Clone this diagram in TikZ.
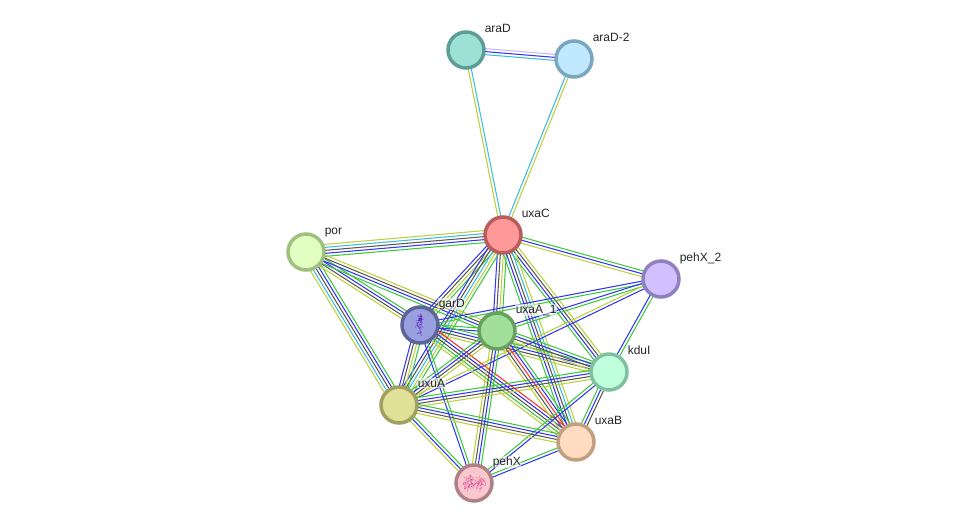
\documentclass[tikz,border=0pt]{standalone}
\usepackage{fontspec}
\setmainfont{Liberation Sans}
\usetikzlibrary{calc,backgrounds}
\definecolor{eg}{HTML}{3CC83C}
\definecolor{eb}{HTML}{3434F4}
\definecolor{ek}{HTML}{585858}
\definecolor{ec}{HTML}{3CBCDC}
\definecolor{ey}{HTML}{BCD03C}
\definecolor{er}{HTML}{F43434}
\definecolor{ep}{HTML}{C4B8F8}
% fill and ring colour of each protein
\definecolor{fa}{HTML}{9CE0D6}\definecolor{ra}{HTML}{5B9E98}
\definecolor{fb}{HTML}{C0E8FF}\definecolor{rb}{HTML}{7AA6C0}
\definecolor{fc}{HTML}{FF9999}\definecolor{rc}{HTML}{B85C5C}
\definecolor{fd}{HTML}{E0FFC0}\definecolor{rd}{HTML}{A0C080}
\definecolor{fe}{HTML}{D0C0FF}\definecolor{re}{HTML}{9080C0}
\definecolor{ff}{HTML}{99A0E0}\definecolor{rf}{HTML}{5C6499}
\definecolor{fg}{HTML}{A0E098}\definecolor{rg}{HTML}{68A060}
\definecolor{fh}{HTML}{C0FFDC}\definecolor{rh}{HTML}{80C0A0}
\definecolor{fi}{HTML}{E0E098}\definecolor{ri}{HTML}{A0A060}
\definecolor{fj}{HTML}{FFDCC0}\definecolor{rj}{HTML}{C0A080}
\definecolor{fk}{HTML}{F8C8CC}\definecolor{rk}{HTML}{B08088}
\tikzset{
  x=1pt,y=-1pt,
  protein/.style 2 args={circle,draw=#2,fill=#1,line width=3.5pt,minimum size=36pt,inner sep=0pt},
  tag/.style={anchor=base west,font=\fontsize{12}{12}\selectfont,text=black!85,fill=white,fill opacity=.55,text opacity=1,inner sep=.6pt},
  edgeline/.style={line width=1.05pt},
}
% Parallel evidence lines between two proteins, listed across the bundle.
\newcommand\bundle[3]{%
  \foreach \c [count=\i] in {#3}{\xdef\bundlesize{\i}}%
  \foreach \c [count=\i] in {#3}{%
    \pgfmathsetmacro\off{(\i-(\bundlesize+1)/2)*3}%
    \draw[edgeline,\c] ($(#1)!\off pt!90:(#2)$) -- ($(#2)!\off pt!-90:(#1)$);
  }%
}
% Tangled ribbon sketch of a folded structure inside a protein node.
\newcommand\fold[6]{%
  \pgfmathsetseed{#6}%
  \foreach \k in {1,...,#5}{%
    \pgfmathsetmacro\ax{#1+#3*(2*rnd-1)}%
    \pgfmathsetmacro\ay{#2+#4*(2*rnd-1)}%
    \pgfmathsetmacro\bx{\ax+6*(rnd-.5)}%
    \pgfmathsetmacro\by{\ay+6*(rnd-.5)}%
    \pgfmathsetmacro\cx{\ax+7*(rnd-.5)}%
    \pgfmathsetmacro\cy{\ay+7*(rnd-.5)}%
    \draw[foldline] (\ax,\ay) .. controls (\bx,\by) .. (\cx,\cy);
  }%
}
\begin{document}
\begin{tikzpicture}
\useasboundingbox (0,0) rectangle (976,528);
% proteins
\node[protein={fa}{ra}] (araD) at (466,50) {};
\node[protein={fb}{rb}] (araD2) at (574,59) {};
\node[protein={fc}{rc}] (uxaC) at (503,235) {};
\node[protein={fd}{rd}] (por) at (306,252) {};
\node[protein={fe}{re}] (pehX2) at (661,279) {};
\node[protein={ff}{rf}] (garD) at (420,325) {};
\node[protein={fg}{rg}] (uxaA) at (497,331) {};
\node[protein={fh}{rh}] (kduI) at (609,372) {};
\node[protein={fi}{ri}] (uxuA) at (399,405) {};
\node[protein={fj}{rj}] (uxaB) at (576,442) {};
\node[protein={fk}{rk}] (pehX) at (474,483) {};
% folded structures
\tikzset{foldline/.style={draw=violet!60!blue,line width=.3pt,opacity=.55}}
\fold{420}{322}{2}{6}{30}{11}
\fold{420.5}{331}{2}{2.5}{6}{12}
\tikzset{foldline/.style={draw=purple!70!magenta,line width=.3pt,opacity=.5}}
\fold{474}{483}{9}{6}{60}{13}
% labels
\node[tag] (laraD) at (484,32) {araD};
\node[tag] (laraD2) at (592,41) {araD-2};
\node[tag] (luxaC) at (521,217) {uxaC};
\node[tag] (lpor) at (324,234) {por};
\node[tag] (lpehX2) at (679,261) {pehX\_2};
\node[tag] (lgarD) at (438,307) {garD};
\node[tag] (luxaA) at (515,313) {uxaA\_1};
\node[tag] (lkduI) at (627,354) {kduI};
\node[tag] (luxuA) at (417,387) {uxuA};
\node[tag] (luxaB) at (594,424) {uxaB};
\node[tag] (lpehX) at (492,465) {pehX};
% interaction bundles
\begin{scope}[on background layer]
\fill[white] (0,0) rectangle (976,528);
\bundle{araD}{araD2}{ec,eb,ep}
\bundle{araD}{uxaC}{ey,ec}
\bundle{araD2}{uxaC}{ec,ey}
\bundle{por}{uxaC}{eg,eb,ek,ec,ey}
\bundle{por}{uxuA}{ey,ec,ek,eb,eg}
\bundle{por}{garD}{ey,ek,eb,eg}
\bundle{por}{uxaA}{eg,eb,ek,ey}
\bundle{uxaC}{pehX2}{ey,eb,eg}
\bundle{uxaC}{garD}{eb,ek,ey,eg}
\bundle{uxaC}{uxaA}{eb,ek,ey,eg}
\bundle{uxaC}{uxuA}{eb,ek,ec,ey,eg}
\bundle{uxaC}{kduI}{eg,eb,ek,ey}
\bundle{uxaC}{uxaB}{eg,eb,ek,ec,ey}
\bundle{pehX2}{garD}{eb,eg}
\bundle{pehX2}{uxaA}{eb,eg}
\bundle{pehX2}{uxuA}{ey,eb}
\bundle{pehX2}{kduI}{eb,eg}
\bundle{garD}{uxaA}{eb,eg}
\bundle{garD}{uxuA}{eb,ek,ey,eg}
\bundle{garD}{kduI}{ey,ek,eb,eg}
\bundle{garD}{uxaB}{ey,eg,ek,eb,er}
\bundle{garD}{pehX}{eb,eg}
\bundle{uxaA}{uxuA}{eg,eb,ek,ey}
\bundle{uxaA}{kduI}{ey,ek,eb,eg}
\bundle{uxaA}{uxaB}{ey,ek,er,eb,eg}
\bundle{uxaA}{pehX}{ey,ek,eb,eg}
\bundle{kduI}{uxuA}{eg,eb,ek,ey}
\bundle{kduI}{uxaB}{eg,eb,ek}
\bundle{kduI}{pehX}{eg,eb}
\bundle{uxuA}{uxaB}{ey,ek,eb,eg}
\bundle{uxuA}{pehX}{ey,eb,eg}
\bundle{uxaB}{pehX}{eg,eb}
\end{scope}
\end{tikzpicture}
\end{document}
